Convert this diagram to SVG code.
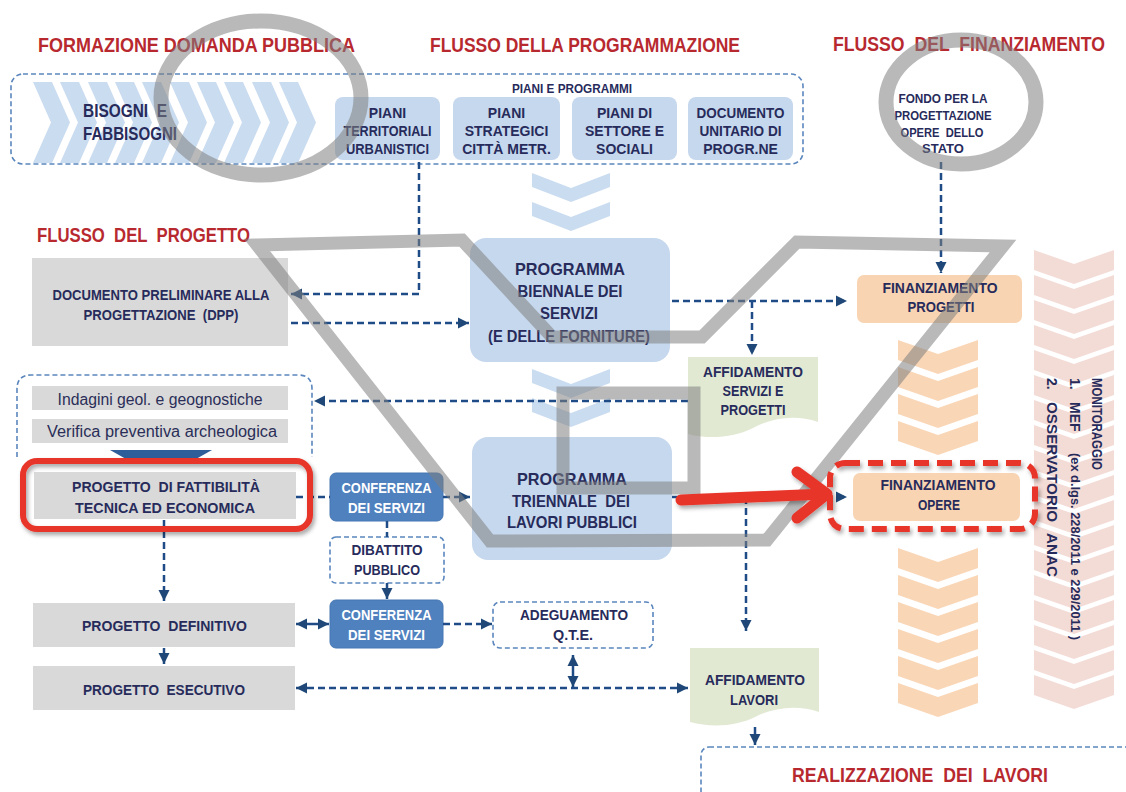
<svg xmlns="http://www.w3.org/2000/svg" width="1126" height="792" viewBox="0 0 1126 792">
  <defs>
    <style>
      text{font-family:"Liberation Sans Narrow","Liberation Sans",Arial,sans-serif;font-weight:bold;fill:#272b5b;text-anchor:middle;white-space:pre}
      .title{fill:#b8292f;font-size:20px;text-anchor:start}
      .s13{font-size:13px}
      .s14{font-size:14px}
      .s15{font-size:15px}
      .s16{font-size:16.5px}
      .wt{fill:#ffffff;font-size:14px}
      .reg{font-weight:normal;font-size:16px;fill:#2a2e58}
      .rot{text-anchor:start;font-size:14px}
      .grey{fill:#d9d9d9}
      .blue{fill:#c6d8ed}
      .peach{fill:#f8d4b2}
      .green{fill:#e1e9d3}
      .conf{fill:#4f81bf;stroke:#4777b3;stroke-width:1}
      .grp{fill:none;stroke:#5a86bd;stroke-width:1.6;stroke-dasharray:5 3}
      .grpw{fill:#ffffff;stroke:#5a86bd;stroke-width:1.6;stroke-dasharray:5 3}
      .con{fill:none;stroke:#1f4c86;stroke-width:2.5;stroke-dasharray:7 4}
      .sol{fill:none;stroke:#1f4c86;stroke-width:2.5}
      .band{fill:none;stroke:#808080;stroke-opacity:0.55;stroke-width:13;stroke-linejoin:miter}
      .ring{fill:none;stroke:#808080;stroke-opacity:0.55;stroke-width:15}
      .red{fill:none;stroke:#e8352a}
    </style>
    <path id="chevR" d="M0,0 H19 L37,40.5 L19,81 H0 L18,40.5 Z"/>
    <path id="chevB" d="M0,0 L39,15 L78,0 V14 L39,29 L0,14 Z"/>
    <path id="chevP" d="M0,0 L40,14 L80,0 V20 L40,34 L0,20 Z"/>
    <marker id="ah" viewBox="0 0 10 10" refX="10" refY="5" markerWidth="11" markerHeight="13" markerUnits="userSpaceOnUse" orient="auto-start-reverse">
      <path d="M0,0 L10,5 L0,10 Z" fill="#1f4878"/>
    </marker>
    <filter id="sh" x="-10%" y="-20%" width="120%" height="150%">
      <feDropShadow dx="2" dy="3" stdDeviation="2" flood-color="#000000" flood-opacity="0.35"/>
    </filter>
  </defs>

  <rect width="1126" height="792" fill="#ffffff"/>

  <!-- section titles -->
  <g id="titles">
    <text class="title" x="38" y="52" textLength="317" lengthAdjust="spacingAndGlyphs">FORMAZIONE DOMANDA PUBBLICA</text>
    <text class="title" x="430" y="52" textLength="310" lengthAdjust="spacingAndGlyphs">FLUSSO DELLA PROGRAMMAZIONE</text>
    <text class="title" x="833" y="51" textLength="272" lengthAdjust="spacingAndGlyphs">FLUSSO  DEL  FINANZIAMENTO</text>
    <text class="title" x="37" y="242" textLength="213" lengthAdjust="spacingAndGlyphs">FLUSSO  DEL  PROGETTO</text>
  </g>

  <!-- demand / plans band -->
  <g id="piani-e-programmi">
    <rect class="grp" x="11" y="74" width="792" height="90" rx="12"/>
    <g fill="#cadcf0">
      <use href="#chevR" x="33" y="82"/>
      <use href="#chevR" x="60" y="82"/>
      <use href="#chevR" x="88" y="82"/>
      <use href="#chevR" x="115" y="82"/>
      <use href="#chevR" x="142" y="82"/>
      <use href="#chevR" x="170" y="82"/>
      <use href="#chevR" x="197" y="82"/>
      <use href="#chevR" x="224" y="82"/>
      <use href="#chevR" x="252" y="82"/>
      <use href="#chevR" x="279" y="82"/>
    </g>
    <text class="s13" x="572" y="93" textLength="120" lengthAdjust="spacingAndGlyphs">PIANI E PROGRAMMI</text>
  </g>

  <g id="n-bisogni">
    <text style="font-size:18px;text-anchor:start" x="83" y="117" textLength="84" lengthAdjust="spacingAndGlyphs">BISOGNI  E</text>
    <text style="font-size:18px;text-anchor:start" x="83" y="140" textLength="94" lengthAdjust="spacingAndGlyphs">FABBISOGNI</text>
  </g>

  <g id="n-piani-territoriali">
    <rect class="blue" x="335" y="97" width="105" height="63" rx="8"/>
    <text class="s14" x="387.5" y="118">PIANI</text>
    <text class="s14" x="387.5" y="136" textLength="88" lengthAdjust="spacingAndGlyphs">TERRITORIALI</text>
    <text class="s14" x="387.5" y="154" textLength="83" lengthAdjust="spacingAndGlyphs">URBANISTICI</text>
  </g>
  <g id="n-piani-strategici">
    <rect class="blue" x="453" y="97" width="107" height="63" rx="8"/>
    <text class="s14" x="506.5" y="118">PIANI</text>
    <text class="s14" x="506.5" y="136">STRATEGICI</text>
    <text class="s14" x="506.5" y="154">CITTÀ METR.</text>
  </g>
  <g id="n-piani-settore">
    <rect class="blue" x="572" y="97" width="105" height="63" rx="8"/>
    <text class="s14" x="624.5" y="118">PIANI DI</text>
    <text class="s14" x="624.5" y="136">SETTORE E</text>
    <text class="s14" x="624.5" y="154">SOCIALI</text>
  </g>
  <g id="n-documento-unitario">
    <rect class="blue" x="688" y="97" width="105" height="63" rx="8"/>
    <text class="s14" x="740.5" y="118" textLength="88" lengthAdjust="spacingAndGlyphs">DOCUMENTO</text>
    <text class="s14" x="740.5" y="136" textLength="82" lengthAdjust="spacingAndGlyphs">UNITARIO DI</text>
    <text class="s14" x="740.5" y="154">PROGR.NE</text>
  </g>

  <g id="n-fondo">
    <text class="s13" x="943" y="103" textLength="89" lengthAdjust="spacingAndGlyphs">FONDO PER LA</text>
    <text class="s13" x="943" y="120" textLength="97" lengthAdjust="spacingAndGlyphs">PROGETTAZIONE</text>
    <text class="s13" x="942" y="137" textLength="83" lengthAdjust="spacingAndGlyphs">OPERE  DELLO</text>
    <text class="s13" x="943" y="153">STATO</text>
  </g>

  <!-- flow chevrons -->
  <g id="chevrons-programmazione" fill="#cadcf0">
    <use href="#chevB" x="532" y="173"/>
    <use href="#chevB" x="532" y="202"/>
    <use href="#chevB" x="532" y="369"/>
    <use href="#chevB" x="532" y="398"/>
  </g>
  <g id="chevrons-finanziamento" fill="#f9d6b6">
    <use href="#chevP" x="898" y="340"/>
    <use href="#chevP" x="898" y="367"/>
    <use href="#chevP" x="898" y="394"/>
    <use href="#chevP" x="898" y="421"/>
    <use href="#chevP" x="898" y="548"/>
    <use href="#chevP" x="898" y="575"/>
    <use href="#chevP" x="898" y="602"/>
    <use href="#chevP" x="898" y="629"/>
    <use href="#chevP" x="898" y="656"/>
    <use href="#chevP" x="898" y="683"/>
  </g>
  <g id="n-monitoraggio">
    <g fill="#f3dbd6">
      <use href="#chevP" x="1034" y="250"/>
      <use href="#chevP" x="1034" y="275"/>
      <use href="#chevP" x="1034" y="300"/>
      <use href="#chevP" x="1034" y="325"/>
      <use href="#chevP" x="1034" y="350"/>
      <use href="#chevP" x="1034" y="375"/>
      <use href="#chevP" x="1034" y="400"/>
      <use href="#chevP" x="1034" y="425"/>
      <use href="#chevP" x="1034" y="450"/>
      <use href="#chevP" x="1034" y="475"/>
      <use href="#chevP" x="1034" y="500"/>
      <use href="#chevP" x="1034" y="525"/>
      <use href="#chevP" x="1034" y="550"/>
      <use href="#chevP" x="1034" y="575"/>
      <use href="#chevP" x="1034" y="600"/>
      <use href="#chevP" x="1034" y="625"/>
      <use href="#chevP" x="1034" y="650"/>
      <use href="#chevP" x="1034" y="675"/>
    </g>
    <text class="rot" transform="translate(1092,378) rotate(90)" textLength="92" lengthAdjust="spacingAndGlyphs">MONITORAGGIO</text>
    <text class="rot" transform="translate(1070,378) rotate(90)">1.</text>
    <text class="rot" transform="translate(1070,402) rotate(90)">MEF</text>
    <text class="rot" style="font-size:12px" transform="translate(1071,453) rotate(90)" textLength="187" lengthAdjust="spacingAndGlyphs">(ex d.lgs. 228/2011 e 229/2011 )</text>
    <text class="rot" transform="translate(1047,378) rotate(90)">2.</text>
    <text class="rot" transform="translate(1047,402) rotate(90)" textLength="120" lengthAdjust="spacingAndGlyphs">OSSERVATORIO</text>
    <text class="rot" transform="translate(1047,533) rotate(90)" textLength="44" lengthAdjust="spacingAndGlyphs">ANAC</text>
  </g>

  <!-- project flow -->
  <g id="n-dpp">
    <rect class="grey" x="32" y="258" width="256" height="88"/>
    <text class="s15" x="161" y="300" textLength="217" lengthAdjust="spacingAndGlyphs">DOCUMENTO PRELIMINARE ALLA</text>
    <text class="s15" x="161" y="320" textLength="155" lengthAdjust="spacingAndGlyphs">PROGETTAZIONE  (DPP)</text>
  </g>

  <g id="n-indagini">
    <path class="grp" d="M17,457 V389 Q17,375 31,375 H298 Q312,375 312,389 V457"/>
    <rect class="grey" x="32" y="386" width="256" height="24"/>
    <text class="reg" x="160" y="405" textLength="205" lengthAdjust="spacingAndGlyphs">Indagini geol. e geognostiche</text>
    <rect class="grey" x="32" y="419" width="256" height="24"/>
    <text class="reg" x="162" y="437" textLength="230" lengthAdjust="spacingAndGlyphs">Verifica preventiva archeologica</text>
    <polygon points="110,450 212,450 196,459 126,459" fill="#2e5e99"/>
  </g>

  <g id="n-fattibilita">
    <rect class="grey" x="34" y="472" width="262" height="47"/>
    <text class="s15" x="166" y="492" textLength="188" lengthAdjust="spacingAndGlyphs">PROGETTO  DI FATTIBILITÀ</text>
    <text class="s15" x="165" y="513" textLength="180" lengthAdjust="spacingAndGlyphs">TECNICA ED ECONOMICA</text>
  </g>

  <g id="n-conferenza-1">
    <rect class="conf" x="330" y="473" width="113" height="48" rx="6"/>
    <text class="wt" x="386.5" y="493" textLength="90" lengthAdjust="spacingAndGlyphs">CONFERENZA</text>
    <text class="wt" x="386.5" y="513" textLength="77" lengthAdjust="spacingAndGlyphs">DEI SERVIZI</text>
  </g>

  <g id="n-dibattito">
    <rect class="grpw" x="330" y="537" width="114" height="46" rx="6"/>
    <text class="s14" x="387" y="555" textLength="71" lengthAdjust="spacingAndGlyphs">DIBATTITO</text>
    <text class="s14" x="387" y="575" textLength="66" lengthAdjust="spacingAndGlyphs">PUBBLICO</text>
  </g>

  <g id="n-conferenza-2">
    <rect class="conf" x="330" y="600" width="113" height="48" rx="6"/>
    <text class="wt" x="386.5" y="620" textLength="90" lengthAdjust="spacingAndGlyphs">CONFERENZA</text>
    <text class="wt" x="386.5" y="640" textLength="77" lengthAdjust="spacingAndGlyphs">DEI SERVIZI</text>
  </g>

  <g id="n-definitivo">
    <rect class="grey" x="33" y="603" width="262" height="44"/>
    <text class="s15" x="164.5" y="631" textLength="165" lengthAdjust="spacingAndGlyphs">PROGETTO  DEFINITIVO</text>
  </g>

  <g id="n-esecutivo">
    <rect class="grey" x="33" y="666" width="262" height="44"/>
    <text class="s15" x="164" y="695" textLength="162" lengthAdjust="spacingAndGlyphs">PROGETTO  ESECUTIVO</text>
  </g>

  <g id="n-adeguamento">
    <rect class="grpw" x="493" y="602" width="160" height="46" rx="7"/>
    <text class="s14" x="574" y="620" textLength="108" lengthAdjust="spacingAndGlyphs">ADEGUAMENTO</text>
    <text class="s14" x="573" y="640" textLength="40" lengthAdjust="spacingAndGlyphs">Q.T.E.</text>
  </g>

  <!-- programming -->
  <g id="n-biennale">
    <rect class="blue" x="470" y="238" width="200" height="124" rx="16"/>
    <text class="s16" x="570" y="275" textLength="110" lengthAdjust="spacingAndGlyphs">PROGRAMMA</text>
    <text class="s16" x="570" y="297" textLength="105" lengthAdjust="spacingAndGlyphs">BIENNALE DEI</text>
    <text class="s16" x="569" y="319" textLength="58" lengthAdjust="spacingAndGlyphs">SERVIZI</text>
    <text class="s16" x="569" y="342" textLength="162" lengthAdjust="spacingAndGlyphs">(E DELLE FORNITURE)</text>
  </g>

  <g id="n-triennale">
    <rect class="blue" x="472" y="437" width="200" height="123" rx="16"/>
    <text class="s16" x="572" y="485" textLength="110" lengthAdjust="spacingAndGlyphs">PROGRAMMA</text>
    <text class="s16" x="571" y="507" textLength="118" lengthAdjust="spacingAndGlyphs">TRIENNALE  DEI</text>
    <text class="s16" x="572" y="528" textLength="130" lengthAdjust="spacingAndGlyphs">LAVORI PUBBLICI</text>
  </g>

  <g id="n-affidamento-servizi">
    <path class="green" d="M688,357 H818 V422 C795,414 772,418 753,428 C735,437 710,440 688,434 Z"/>
    <text class="s14" x="753" y="377" textLength="100" lengthAdjust="spacingAndGlyphs">AFFIDAMENTO</text>
    <text class="s14" x="753" y="396" textLength="61" lengthAdjust="spacingAndGlyphs">SERVIZI E</text>
    <text class="s14" x="753" y="415" textLength="65" lengthAdjust="spacingAndGlyphs">PROGETTI</text>
  </g>

  <g id="n-affidamento-lavori">
    <path class="green" d="M690,648 H819 V712 C796,704 773,708 755,717 C737,726 712,728 690,722 Z"/>
    <text class="s14" x="755" y="685" textLength="100" lengthAdjust="spacingAndGlyphs">AFFIDAMENTO</text>
    <text class="s14" x="754" y="705" textLength="48" lengthAdjust="spacingAndGlyphs">LAVORI</text>
  </g>

  <!-- funding -->
  <g id="n-finanziamento-progetti">
    <rect class="peach" x="857" y="275" width="165" height="48" rx="7"/>
    <text class="s14" x="940" y="293" textLength="115" lengthAdjust="spacingAndGlyphs">FINANZIAMENTO</text>
    <text class="s14" x="941" y="312" textLength="67" lengthAdjust="spacingAndGlyphs">PROGETTI</text>
  </g>

  <g id="n-finanziamento-opere">
    <rect class="peach" x="853" y="473" width="167" height="48" rx="7"/>
    <text class="s14" x="938" y="490" textLength="115" lengthAdjust="spacingAndGlyphs">FINANZIAMENTO</text>
    <text class="s14" x="939" y="510" textLength="42" lengthAdjust="spacingAndGlyphs">OPERE</text>
  </g>

  <g id="n-realizzazione">
    <rect class="grpw" x="701" y="747" width="480" height="80" rx="8"/>
    <text class="title" x="792" y="782" textLength="256" lengthAdjust="spacingAndGlyphs">REALIZZAZIONE  DEI  LAVORI</text>
  </g>

  <!-- connectors -->
  <g id="connectors">
    <path class="con" d="M419,162 V294 H291" marker-end="url(#ah)"/>
    <path class="con" d="M291,323 H469" marker-end="url(#ah)"/>
    <path class="con" d="M672,301 H847" marker-end="url(#ah)"/>
    <path class="con" d="M752,301 V355" marker-end="url(#ah)"/>
    <path class="con" d="M941,162 V273" marker-end="url(#ah)"/>
    <path class="con" d="M688,401 H314" marker-end="url(#ah)"/>
    <path class="con" d="M296,497 H330"/>
    <path class="con" d="M443,497 H470" marker-end="url(#ah)"/>
    <path class="con" d="M672,497 H847" marker-end="url(#ah)"/>
    <path class="con" d="M746,497 V631" marker-end="url(#ah)"/>
    <path class="con" d="M164,520 V601" marker-end="url(#ah)"/>
    <path class="con" d="M387,521 V537"/>
    <path class="con" d="M387,583 V599" marker-end="url(#ah)"/>
    <path class="sol" d="M296,624 H329" marker-start="url(#ah)" marker-end="url(#ah)"/>
    <path class="sol" d="M164,648 V664" marker-end="url(#ah)"/>
    <path class="con" d="M443,624 H492" marker-end="url(#ah)"/>
    <path class="con" d="M296,688 H688" marker-start="url(#ah)" marker-end="url(#ah)"/>
    <path class="sol" d="M573,655 V687" marker-start="url(#ah)" marker-end="url(#ah)"/>
    <path class="con" d="M755,727 V745" marker-end="url(#ah)"/>
  </g>

  <!-- grey highlight strokes -->
  <g id="overlay">
    <ellipse class="ring" cx="261" cy="98" rx="100" ry="77"/>
    <ellipse class="ring" cx="961" cy="102" rx="75" ry="62"/>
    <polygon class="band" points="257,245 462,240 552,337 702,337 797,242 1003,246 767,540 490,541"/>
    <rect class="band" x="563" y="393" width="131" height="95"/>
  </g>

  <!-- red highlights -->
  <g id="annotations" filter="url(#sh)">
    <rect class="red" x="23" y="461" width="287" height="68" rx="14" stroke-width="6"/>
    <rect class="red" x="830" y="463" width="205" height="66" rx="15" stroke-width="6" stroke-dasharray="15 8"/>
    <path class="red" d="M681,500 L826,494" stroke-width="11" stroke-linecap="round"/>
    <path class="red" d="M797,472 L827,494 L797,518" stroke-width="11" stroke-linecap="round" stroke-linejoin="round"/>
  </g>
</svg>
